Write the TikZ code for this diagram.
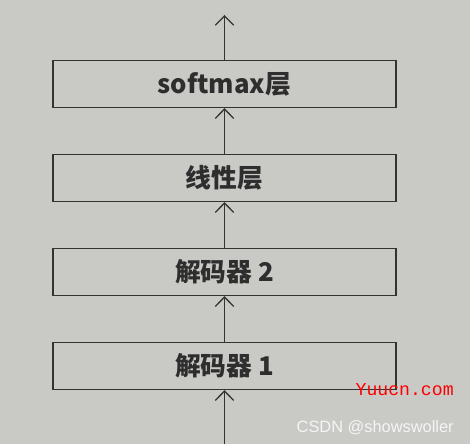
\documentclass[tikz,border=0pt]{standalone}
\usepackage{fontspec}
\setmainfont{Noto Sans CJK SC}
\newfontfamily\wmmono{Liberation Mono}
\newfontfamily\wmsans{Liberation Sans}
\usepackage{tikz}
\usetikzlibrary{arrows.meta, positioning}

\definecolor{paper}{HTML}{C9C9C6}
\definecolor{ink}{HTML}{333333}

\begin{document}
\begin{tikzpicture}[node distance=2.82cm,on grid,
        >={Straight Barb[length=0.28cm, width=0.55cm]},
        every edge/.style={draw=ink, line width=1.1pt},
        layer/.style={draw=ink, line width=1.1pt, minimum width=10.29cm, minimum height=1.41cm,
                      font=\fontsize{22}{26}\selectfont\bfseries, text=ink!90!black}]
        \fill[paper] (-6.735,-2.34) rectangle (7.365,10.98);

        \node[layer]                (dec_1)                                {解码器 1};
        \node[layer]                (dec_2)     [above of=dec_1]           {解码器 2};
        \node[layer]                (lin)       [above of=dec_2]           {线性层};
        \node[layer]                (soft)      [above of=lin]             {softmax层};

        \coordinate[below=2.34cm of dec_1]     (in);
        \coordinate[above=2.07cm of soft]      (out);

        \path[->]   (in) edge (dec_1)
        (dec_1) edge (dec_2)
        (dec_2) edge (lin)
        (lin) edge (soft)
        (soft) edge (out)
        ;

        \node[text=red, font=\wmmono\fontsize{15.5}{18}\selectfont, anchor=east] (wm_1) at (7.0,-0.72) {Yuucn.com};
        \node[text=white!92!gray, font=\wmsans\fontsize{14}{16}\selectfont, anchor=east] (wm_2) at (7.0,-1.85) {CSDN @showswoller};
    \end{tikzpicture}
\end{document}
